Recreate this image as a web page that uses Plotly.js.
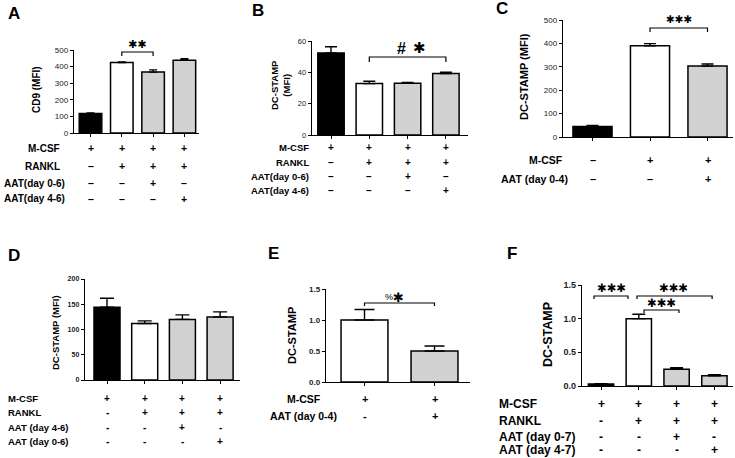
<!DOCTYPE html>
<html>
<head>
<meta charset="utf-8">
<script src="https://cdn.plot.ly/plotly-3.0.1.min.js"></script>
<style>html,body{margin:0;padding:0;background:#fff}#chart{width:735px;height:458px}</style>
</head>
<body>
<div id="chart"></div>
<script>
// ---------------- DATA ----------------
const BLACK = '#000000', WHITE = '#ffffff', GRAY = '#d2d2d2';

// Panel A
const aCategories = ['M-CSF', 'M-CSF+RANKL', 'M-CSF+RANKL+AAT(0-6)', 'M-CSF+RANKL+AAT(4-6)'];
const aValues = [118, 425, 367, 438];
const aErrors = [3, 3, 13, 9];
const aColors = [BLACK, WHITE, GRAY, GRAY];
const aYTicks = [0, 100, 200, 300, 400, 500];
const aYTitle = 'CD9 (MFI)';
const aRowLabels = ['M-CSF', 'RANKL', 'AAT(day 0-6)', 'AAT(day 4-6)'];
const aSigns = [['+', '+', '+', '+'], ['–', '+', '+', '+'], ['–', '–', '+', '–'], ['–', '–', '–', '+']];

// Panel B
const bCategories = ['M-CSF', 'M-CSF+RANKL', 'M-CSF+RANKL+AAT(0-6)', 'M-CSF+RANKL+AAT(4-6)'];
const bValues = [52.4, 32.8, 33.0, 39.3];
const bErrors = [3.9, 1.5, 0.6, 0.8];
const bColors = [BLACK, WHITE, GRAY, GRAY];
const bYTicks = [0, 20, 40, 60];
const bYTitle = 'DC-STAMP<br>(MFI)';
const bRowLabels = ['M-CSF', 'RANKL', 'AAT(day 0-6)', 'AAT(day 4-6)'];
const bSigns = [['+', '+', '+', '+'], ['–', '+', '+', '+'], ['–', '–', '+', '–'], ['–', '–', '–', '+']];

// Panel C
const cCategories = ['Control', 'M-CSF', 'M-CSF+AAT(0-4)'];
const cValues = [45, 390, 303];
const cErrors = [4, 9, 9];
const cColors = [BLACK, WHITE, GRAY];
const cYTicks = [0, 100, 200, 300, 400, 500];
const cYTitle = 'DC-STAMP (MFI)';
const cRowLabels = ['M-CSF', 'AAT (day 0-4)'];
const cSigns = [['–', '+', '+'], ['–', '–', '+']];

// Panel D
const dCategories = ['M-CSF', 'M-CSF+RANKL', 'M-CSF+RANKL+AAT(4-6)', 'M-CSF+RANKL+AAT(0-6)'];
const dValues = [144, 112, 120, 125];
const dErrors = [18, 5, 9, 10];
const dColors = [BLACK, WHITE, GRAY, GRAY];
const dYTicks = [0, 50, 100, 150, 200];
const dYTitle = 'DC-STAMP (MFI)';
const dRowLabels = ['M-CSF', 'RANKL', 'AAT (day 4-6)', 'AAT (day 0-6)'];
const dSigns = [['+', '+', '+', '+'], ['-', '+', '+', '+'], ['-', '-', '+', '-'], ['-', '-', '-', '+']];

// Panel E
const eCategories = ['M-CSF', 'M-CSF+AAT(0-4)'];
const eValues = [1.0, 0.5];
const eErrors = [0.17, 0.08];
const eColors = [WHITE, GRAY];
const eYTicks = [0, 0.5, 1.0, 1.5];
const eYTitle = 'DC-STAMP';
const eRowLabels = ['M-CSF', 'AAT (day 0-4)'];
const eSigns = [['+', '+'], ['-', '+']];

// Panel F
const fCategories = ['M-CSF', 'M-CSF+RANKL', 'M-CSF+RANKL+AAT(0-7)', 'M-CSF+RANKL+AAT(4-7)'];
const fValues = [0.03, 1.0, 0.248, 0.153];
const fErrors = [0.005, 0.065, 0.022, 0.014];
const fColors = [BLACK, WHITE, GRAY, GRAY];
const fYTicks = [0, 0.5, 1.0, 1.5];
const fYTitle = 'DC-STAMP';
const fRowLabels = ['M-CSF', 'RANKL', 'AAT (day 0-7)', 'AAT (day 4-7)'];
const fSigns = [['+', '+', '+', '+'], ['-', '+', '+', '+'], ['-', '-', '+', '-'], ['-', '-', '-', '+']];

// Significance marks (text only)
const aSig = ['✱✱'];
const bSig = ['#', '✱'];
const cSig = ['✱✱✱'];
const eSig = ['%', '✱'];
const fSig = ['✱✱✱', '✱✱✱', '✱✱✱'];

// ---------------- LAYOUT GEOMETRY ----------------
const W = 735, H = 458;
const FONT = 'Arial, "Liberation Sans", Helvetica, sans-serif';
const STAR_FONT = '"DejaVu Sans", sans-serif';
const px = x => x / W;
const py = y => 1 - y / H;

const panels = [
  {letter: 'A', cats: aCategories, vals: aValues, errs: aErrors, colors: aColors, yticks: aYTicks, ytitle: aYTitle,
   rows: aRowLabels, signs: aSigns, ymax: 500,
   g: {x0: 74, x1: 199, yTop: 50, yBot: 133, c0: 90.5, s: 31.3, bw: 0.72, cap: 4, tf: 8, tb: false,
       tx: 36, ty: 90, ts: 10, lx: 14, ly: 14, rowY: [148, 166, 183, 199], la: 'right', lxs: [62, 62, 67, 67], ls: 10, ss: 10.5},
   brackets: [{x0: 1, x1: 2, y: 52, d: 4}],
   sig: [{t: aSig[0], x: 1.5, y: 45, s: 11, star: true}]},
  {letter: 'B', cats: bCategories, vals: bValues, errs: bErrors, colors: bColors, yticks: bYTicks, ytitle: bYTitle,
   rows: bRowLabels, signs: bSigns, ymax: 60,
   g: {x0: 312, x1: 468, yTop: 41, yBot: 135, c0: 331, s: 38.3, bw: 0.69, cap: 6, tf: 7.5, tb: false,
       tx: 281, ty: 85, ts: 9.5, lx: 258, ly: 10, rowY: [147, 162, 177, 191], la: 'right', lxs: [311, 311, 311, 311], ls: 9.5, ss: 10},
   brackets: [{x0: 1, x1: 3, y: 57, d: 5}],
   sig: [{t: bSig[0], x: 1.85, y: 48, s: 16, bold: true}, {t: bSig[1], x: 2.31, y: 48, s: 15, star: true}]},
  {letter: 'C', cats: cCategories, vals: cValues, errs: cErrors, colors: cColors, yticks: cYTicks, ytitle: cYTitle,
   rows: cRowLabels, signs: cSigns, ymax: 500,
   g: {x0: 563, x1: 733, yTop: 20, yBot: 137, c0: 592.5, s: 57.5, bw: 0.68, cap: 6, tf: 8, tb: false,
       tx: 524, ty: 77, ts: 11, lx: 502, ly: 9, rowY: [160, 179], la: 'right', lxs: [565, 570], ls: 10.5, ss: 11},
   brackets: [{x0: 1, x1: 2, y: 28, d: 4}],
   sig: [{t: cSig[0], x: 1.5, y: 19, s: 10.5, star: true}]},
  {letter: 'D', cats: dCategories, vals: dValues, errs: dErrors, colors: dColors, yticks: dYTicks, ytitle: dYTitle,
   rows: dRowLabels, signs: dSigns, ymax: 200,
   g: {x0: 85, x1: 240, yTop: 279, yBot: 380, c0: 107, s: 37.7, bw: 0.69, cap: 7, tf: 7, tb: true,
       tx: 55, ty: 333, ts: 9.5, lx: 14, ly: 255, rowY: [398, 412, 427, 441], la: 'left', lxs: [6, 6, 6, 6], ls: 9.5, ss: 10},
   brackets: [], sig: []},
  {letter: 'E', cats: eCategories, vals: eValues, errs: eErrors, colors: eColors, yticks: eYTicks, ytitle: eYTitle,
   rows: eRowLabels, signs: eSigns, ymax: 1.5,
   g: {x0: 326, x1: 470, yTop: 289, yBot: 382, c0: 364.5, s: 70, bw: 0.67, cap: 10, tf: 8, tb: true,
       tx: 292, ty: 336, ts: 11, lx: 273, ly: 254, rowY: [399, 416], la: 'center', lxs: [303.5, 303.5], ls: 10.5, ss: 11},
   brackets: [{x0: 0, x1: 1, y: 303, d: 3}],
   sig: [{t: eSig[0], x: 0.343, y: 297, s: 9}, {t: eSig[1], x: 0.49, y: 297, s: 13, star: true}]},
  {letter: 'F', cats: fCategories, vals: fValues, errs: fErrors, colors: fColors, yticks: fYTicks, ytitle: fYTitle,
   rows: fRowLabels, signs: fSigns, ymax: 1.5,
   g: {x0: 582, x1: 733, yTop: 285, yBot: 386, c0: 601, s: 37.8, bw: 0.67, cap: 6.5, tf: 9, tb: true,
       tx: 548, ty: 335, ts: 12.5, lx: 512, ly: 254, rowY: [404, 421, 437, 450], la: 'left', lxs: [497, 497, 497, 497], ls: 12, ss: 12},
   brackets: [{x0: -0.185, x1: 0.714, y: 296, d: 3}, {x0: 0.952, x1: 2.94, y: 296, d: 3}, {x0: 1.138, x1: 2.063, y: 310, d: 3}],
   sig: [{t: fSig[0], x: 0.265, y: 288, s: 11.5, star: true}, {t: fSig[1], x: 1.905, y: 288, s: 11.5, star: true},
         {t: fSig[2], x: 1.61, y: 303, s: 11.5, star: true}]}
];

const data = [];
const layout = {
  width: W, height: H, margin: {l: 0, r: 0, t: 0, b: 0, pad: 0},
  paper_bgcolor: '#ffffff', plot_bgcolor: 'rgba(0,0,0,0)', showlegend: false,
  font: {family: FONT, color: '#000'}, annotations: [], shapes: [], bargap: 0
};

panels.forEach((p, i) => {
  const n = i + 1;
  const xa = 'x' + (n === 1 ? '' : n), ya = 'y' + (n === 1 ? '' : n);
  const xk = 'xaxis' + (n === 1 ? '' : n), yk = 'yaxis' + (n === 1 ? '' : n);
  const g = p.g;
  const idx = p.cats.map((c, k) => k);

  data.push({
    type: 'bar', x: idx, y: p.vals, xaxis: xa, yaxis: ya, width: g.bw,
    text: p.cats, hoverinfo: 'text+y', textposition: 'none',
    marker: {color: p.colors, line: {color: '#000', width: 1.5}},
    error_y: {type: 'data', symmetric: false, array: p.errs, arrayminus: p.errs.map(() => 0),
              color: '#000', thickness: 1.4, width: g.cap},
    cliponaxis: false
  });

  layout[xk] = {
    domain: [px(g.x0), px(g.x1)], anchor: ya,
    range: [(g.x0 - g.c0) / g.s, (g.x1 - g.c0) / g.s],
    showline: true, linecolor: '#000', linewidth: 1.3, mirror: false,
    ticks: 'outside', ticklen: 3, tickwidth: 1, tickcolor: '#000',
    tickvals: idx, showticklabels: false, showgrid: false, zeroline: false, fixedrange: true
  };
  layout[yk] = {
    domain: [py(g.yBot), py(g.yTop)], anchor: xa, range: [0, p.ymax],
    showline: true, linecolor: '#000', linewidth: 1.3,
    ticks: 'outside', ticklen: 3, tickwidth: 1, tickcolor: '#000',
    tickvals: p.yticks, ticktext: p.yticks.map(v => (p.ymax < 5 ? v.toFixed(1) : String(v))),
    tickfont: {size: g.tf, family: FONT, color: '#222', weight: g.tb ? 'bold' : 'normal'},
    showgrid: false, zeroline: false, fixedrange: true
  };

  // panel letter
  layout.annotations.push({text: p.letter, xref: 'paper', yref: 'paper', x: px(g.lx), y: py(g.ly),
    xanchor: 'center', yanchor: 'middle', showarrow: false, font: {size: 17, family: FONT, weight: 'bold'}});
  // y axis title
  layout.annotations.push({text: p.ytitle, xref: 'paper', yref: 'paper', x: px(g.tx), y: py(g.ty),
    xanchor: 'center', yanchor: 'middle', textangle: -90, showarrow: false,
    font: {size: g.ts, family: FONT, weight: 'bold'}});
  // row labels and +/- signs
  p.rows.forEach((lab, r) => {
    layout.annotations.push({text: lab, xref: 'paper', yref: 'paper', x: px(g.lxs[r]), y: py(g.rowY[r]),
      xanchor: g.la, yanchor: 'middle', showarrow: false, font: {size: g.ls, family: FONT, weight: 'bold'}});
    p.signs[r].forEach((s, k) => {
      layout.annotations.push({text: s, xref: xa, yref: 'paper', x: k, y: py(g.rowY[r]),
        xanchor: 'center', yanchor: 'middle', showarrow: false, font: {size: g.ss, family: FONT, weight: 'bold'}});
    });
  });
  // brackets
  p.brackets.forEach(b => {
    layout.shapes.push({type: 'path', xref: xa, yref: 'paper',
      path: `M ${b.x0},${py(b.y + b.d)} L ${b.x0},${py(b.y)} L ${b.x1},${py(b.y)} L ${b.x1},${py(b.y + b.d)}`,
      line: {color: '#000', width: 1.2}});
  });
  p.sig.forEach(s => {
    layout.annotations.push({text: s.t, xref: xa, yref: 'paper', x: s.x, y: py(s.y),
      xanchor: 'center', yanchor: 'middle', showarrow: false,
      font: {size: s.s, family: s.star ? STAR_FONT : FONT, weight: (s.star || s.bold) ? 'bold' : 'normal'}});
  });
});

Plotly.newPlot('chart', data, layout, {displayModeBar: false, staticPlot: true});
</script>
</body>
</html>
